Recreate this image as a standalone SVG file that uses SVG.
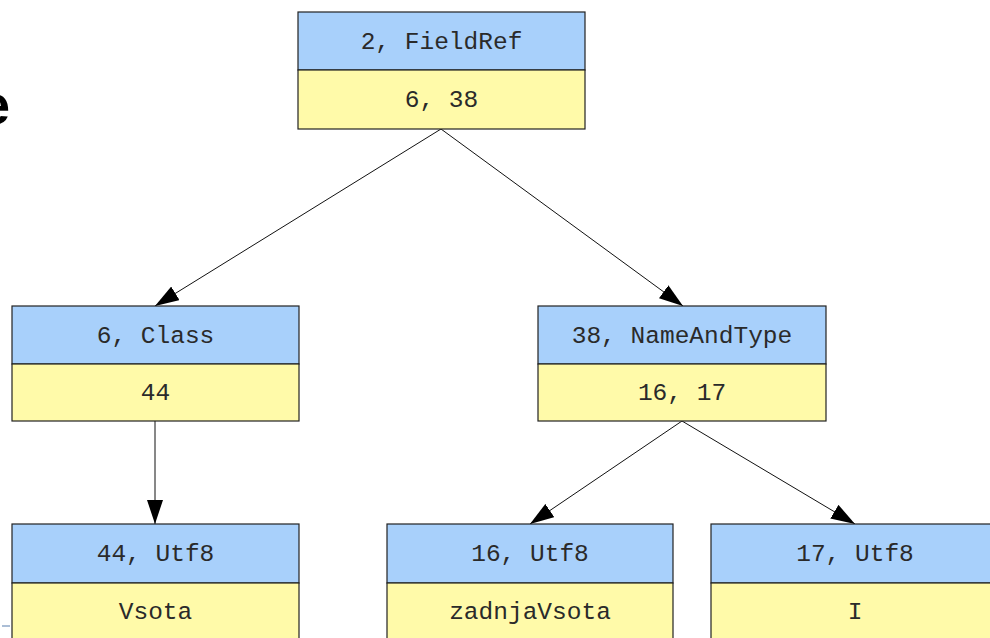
<svg xmlns="http://www.w3.org/2000/svg" width="990" height="638" viewBox="0 0 990 638">
  <defs>
    <style>
      .hdr { fill: #a8d0fb; stroke: #222; stroke-width: 1.2; }
      .val { fill: #fffaa9; stroke: #222; stroke-width: 1.2; }
      .lbl { font-family: "Liberation Mono", "Courier New", monospace; font-size: 24.5px; fill: #2a2a2a; text-anchor: middle; }
      .edge { stroke: #111; stroke-width: 1; fill: none; marker-end: url(#head); }
    </style>
    <marker id="head" viewBox="0 0 24 16" refX="24" refY="8" markerWidth="24" markerHeight="16" markerUnits="userSpaceOnUse" orient="auto">
      <path d="M0,0 L24,8 L0,16 Z" fill="#000"/>
    </marker>
  </defs>

  <rect width="990" height="638" fill="#fff"/>

  <!-- slide title fragment, running off the left edge -->
  <text x="10" y="124" font-family="Liberation Sans, Arial, sans-serif" font-size="55" font-weight="bold" text-anchor="end" fill="#000">e</text>
  <line x1="2" y1="626" x2="10" y2="626" stroke="#8fa8c8" stroke-width="1.5"/>

  <g id="connectors">
    <line class="edge" x1="441" y1="129" x2="155" y2="306"/>
    <line class="edge" x1="441" y1="129" x2="683" y2="306"/>
    <line class="edge" x1="155" y1="421" x2="155" y2="524"/>
    <line class="edge" x1="682" y1="421" x2="530" y2="524"/>
    <line class="edge" x1="682" y1="421" x2="855" y2="524"/>
  </g>

  <g id="n2">
    <rect class="hdr" x="298" y="12" width="287" height="58"/>
    <rect class="val" x="298" y="70" width="287" height="59"/>
    <text class="lbl" x="441.5" y="49">2, FieldRef</text>
    <text class="lbl" x="441.5" y="107">6, 38</text>
  </g>

  <g id="n6">
    <rect class="hdr" x="12" y="306" width="287" height="58"/>
    <rect class="val" x="12" y="364" width="287" height="57"/>
    <text class="lbl" x="155.5" y="343">6, Class</text>
    <text class="lbl" x="155.5" y="400">44</text>
  </g>

  <g id="n38">
    <rect class="hdr" x="538" y="306" width="288" height="58"/>
    <rect class="val" x="538" y="364" width="288" height="57"/>
    <text class="lbl" x="682" y="343">38, NameAndType</text>
    <text class="lbl" x="682" y="400">16, 17</text>
  </g>

  <g id="n44">
    <rect class="hdr" x="12" y="524" width="287" height="59"/>
    <rect class="val" x="12" y="583" width="287" height="60"/>
    <text class="lbl" x="155.5" y="561">44, Utf8</text>
    <text class="lbl" x="155.5" y="619">Vsota</text>
  </g>

  <g id="n16">
    <rect class="hdr" x="387" y="524" width="286" height="59"/>
    <rect class="val" x="387" y="583" width="286" height="60"/>
    <text class="lbl" x="530" y="561">16, Utf8</text>
    <text class="lbl" x="530" y="619">zadnjaVsota</text>
  </g>

  <g id="n17">
    <rect class="hdr" x="711" y="524" width="288" height="59"/>
    <rect class="val" x="711" y="583" width="288" height="60"/>
    <text class="lbl" x="855" y="561">17, Utf8</text>
    <text class="lbl" x="855" y="619">I</text>
  </g>
</svg>
